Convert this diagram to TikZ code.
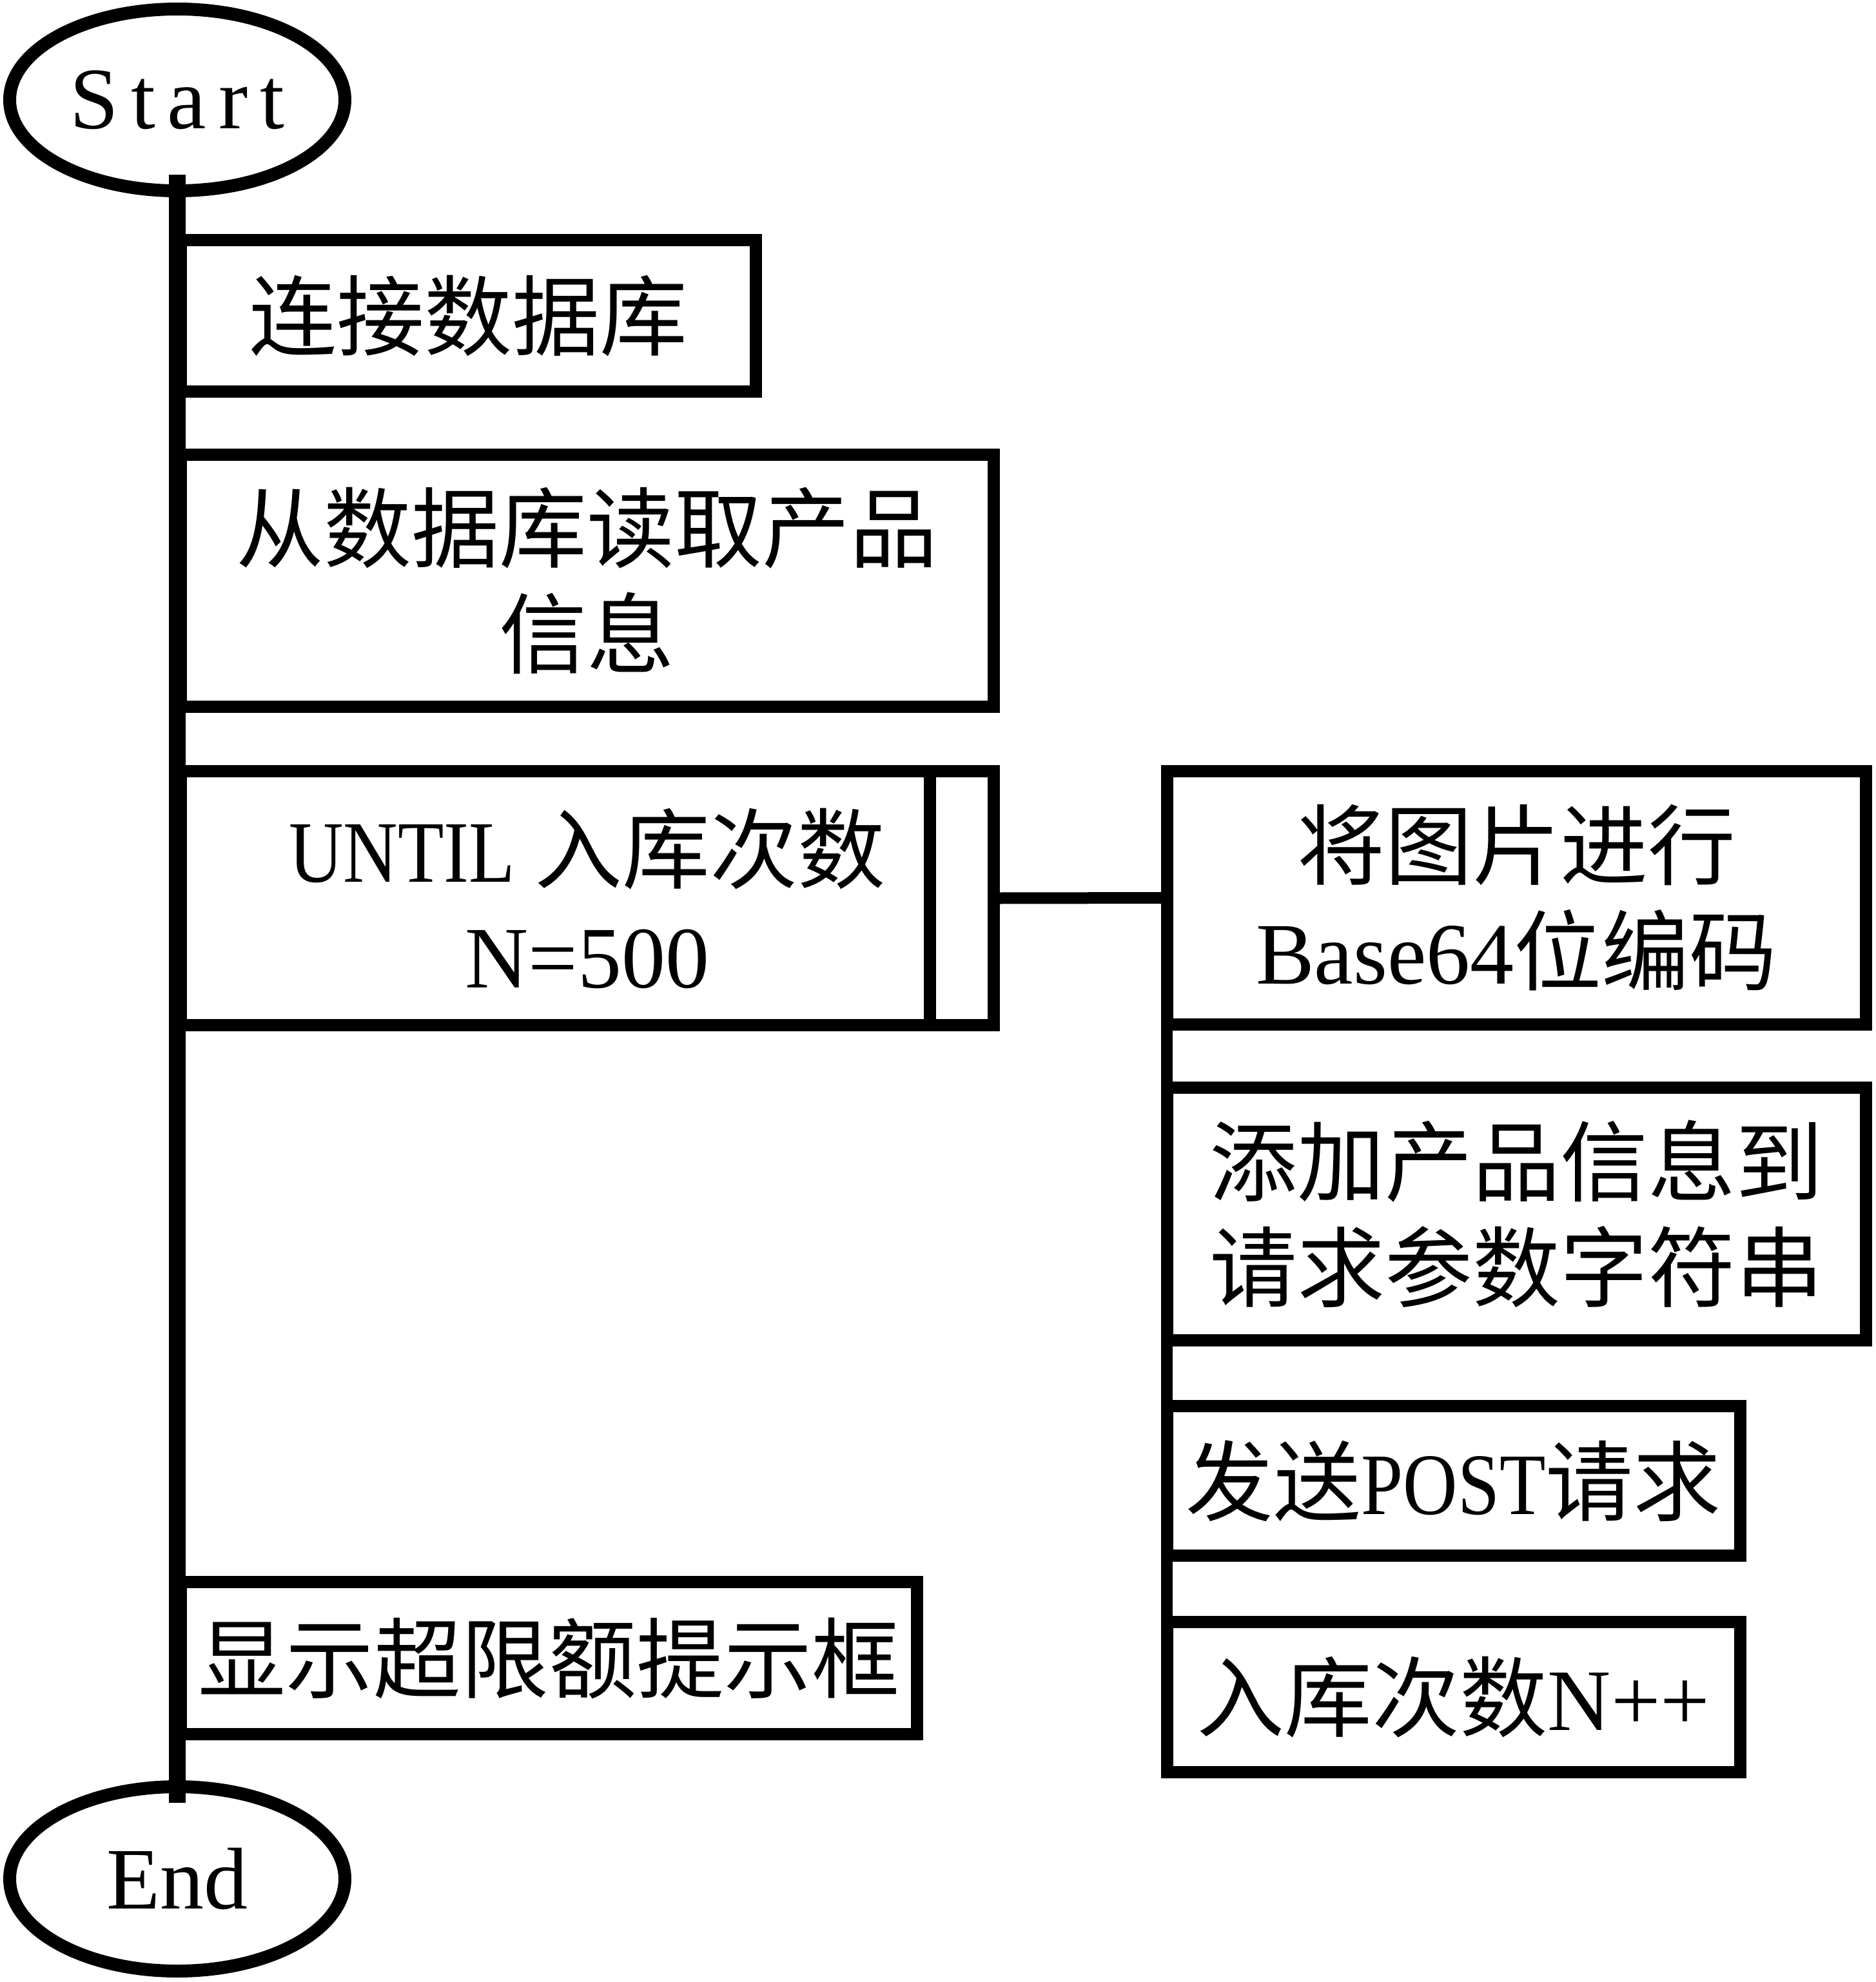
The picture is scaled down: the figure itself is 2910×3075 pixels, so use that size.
\documentclass[tikz,border=0pt]{standalone}
\usepackage{fontspec}
\setmainfont{Liberation Serif}
\newfontfamily\cjkfont{Noto Sans CJK SC}
\newfontfamily\latfont{Liberation Serif}
\usetikzlibrary{calc,shapes.geometric}
\newcommand{\lt}[1]{{\latfont #1}}
\newcommand{\ltn}[1]{{\latfont\addfontfeature{FakeStretch=0.86}#1}}
\begin{document}
\begin{tikzpicture}[x=0.25pt,y=-0.25pt,
  txt/.style={font=\cjkfont\fontsize{34pt}{41pt}\selectfont},
  box/.style={txt,draw,line width=4.75pt,rectangle,inner sep=0pt,outer sep=0pt,align=center},
  term/.style={draw,line width=5pt,ellipse,inner sep=0pt,outer sep=0pt,
    minimum width=130pt,font=\latfont\fontsize{34pt}{41pt}\selectfont},
  mainline/.style={line width=6.5pt},
  branch/.style={line width=4.5pt}]
\useasboundingbox (0,0) rectangle (2910,3075);
% main line first (drawn under nodes)
\coordinate (ltop) at (275,300);
\coordinate (lbot) at (275,2770);
\draw[mainline] (ltop) -- (lbot);
% terminals
\node[term,minimum height=70.5pt,fill=white] (start) at (275,155) {\addfontfeature{LetterSpace=14}Start};
\node[term,minimum height=71.5pt,fill=white] (end) at (275,2915) {End};
\draw[mainline] (start.south) -- ++(0,-25);
\draw[mainline] (end.north) -- ++(0,25);
% left boxes
\node[box,minimum width=223pt,minimum height=58.75pt] (b1) at (726,490) {连接数据库};
\node[box,minimum width=315.375pt,minimum height=97.75pt] (b2) at (910.75,901) {从数据库读取产品\\信息};
\node[box,minimum width=315.375pt,minimum height=98.5pt] (b3) at (910.75,1393.5) {\ltn{UNTIL} 入库次数\\\lt{N=500}};
\draw[line width=4.75pt] ($(b3.north east)+(-99.5,0)$) -- ($(b3.south east)+(-99.5,0)$);
\node[box,minimum width=285.625pt,minimum height=59pt] (b8) at (851.25,2572.5) {显示超限额提示框};
% right boxes
\node[box,minimum width=271.125pt,minimum height=98.25pt] (b4) at (2352.25,1393) {将图片进行\\\lt{Base64}位编码};
\node[box,minimum width=271.125pt,minimum height=98pt] (b5) at (2352.25,1883.5) {添加产品信息到\\请求参数字符串};
\node[box,minimum width=222.375pt,minimum height=58pt] (b6) at (2254.75,2297.5) {发送\ltn{POST}请求};
\node[box,minimum width=222.375pt,minimum height=58.25pt] (b7) at (2254.75,2633) {入库次数\lt{N++}};
% connectors
\draw[branch] (b3.east) -- (b4.west);
\draw[branch] (b4.north west) -- (b7.south west);
\end{tikzpicture}
\end{document}
